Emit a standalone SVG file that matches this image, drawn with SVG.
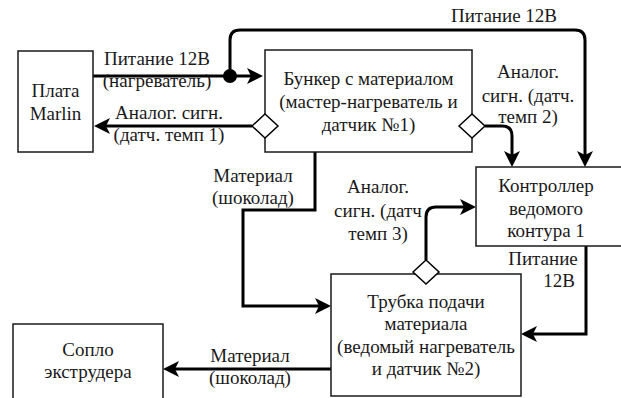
<svg xmlns="http://www.w3.org/2000/svg" width="621" height="398" viewBox="0 0 621 398">
  <style>
    .box { fill: #ffffff; stroke: #1a1a1a; stroke-width: 1.5; }
    .lbl { font-family: "Liberation Serif", serif; font-size: 19px; fill: #1a1a1a; text-anchor: middle; }
    .wire { fill: none; stroke: #000000; stroke-width: 3; }
    .head { fill: #000000; }
    .dia { fill: #ffffff; stroke: #000000; stroke-width: 1.5; }
  </style>
  <defs>
    <!-- arrowhead with its tip at the origin, pointing along +x -->
    <path id="ah" d="M0,0 L-16,-8 L-12,0 L-16,8 Z"/>
  </defs>
  <rect width="621" height="398" fill="#ffffff"/>

  <!-- connectors -->
  <g id="connectors">
    <!-- power to hopper -->
    <path class="wire" d="M93,76 L251,76"/>
    <use class="head" href="#ah" transform="translate(263,76)"/>
    <!-- power branch to slave controller -->
    <path class="wire" d="M230,76 L230,40 Q230,30 240,30 L575,30 Q585,30 585,40 L585,155"/>
    <use class="head" href="#ah" transform="translate(585,167) rotate(90)"/>
    <!-- analog signal 1 to Marlin -->
    <path class="wire" d="M252,126 L106,126"/>
    <use class="head" href="#ah" transform="translate(94,126) rotate(180)"/>
    <!-- analog signal 2 to controller -->
    <path class="wire" d="M485,126 L502,126 Q512,126 512,136 L512,155"/>
    <use class="head" href="#ah" transform="translate(512,167) rotate(90)"/>
    <!-- material from hopper to feed tube -->
    <path class="wire" d="M315,152 L315,210 L243,210 L243,306 L319,306"/>
    <use class="head" href="#ah" transform="translate(331,306)"/>
    <!-- analog signal 3 to controller -->
    <path class="wire" d="M426,260 L426,217 Q426,207 436,207 L464,207"/>
    <use class="head" href="#ah" transform="translate(476,207)"/>
    <!-- controller power to feed tube -->
    <path class="wire" d="M586,246 L586,334 L533,334"/>
    <use class="head" href="#ah" transform="translate(521,334) rotate(180)"/>
    <!-- material to nozzle -->
    <path class="wire" d="M331,369 L175,369"/>
    <use class="head" href="#ah" transform="translate(163,369) rotate(180)"/>
    <!-- junction dot -->
    <circle cx="230" cy="76" r="7" fill="#000000"/>
    <!-- edge labels -->
    <text class="lbl" x="157" y="65">Питание 12В</text>
    <text class="lbl" x="157" y="87">(нагреватель)</text>
    <text class="lbl" x="169" y="119">Аналог. сигн.</text>
    <text class="lbl" x="169" y="141">(датч. темп 1)</text>
    <text class="lbl" x="504" y="22">Питание 12В</text>
    <text class="lbl" x="528" y="78">Аналог.</text>
    <text class="lbl" x="528" y="102">сигн. (датч.</text>
    <text class="lbl" x="528" y="123">темп 2)</text>
    <text class="lbl" x="253" y="182">Материал</text>
    <text class="lbl" x="253" y="204">(шоколад)</text>
    <text class="lbl" x="378" y="193">Аналог.</text>
    <text class="lbl" x="378" y="217">сигн. (датч</text>
    <text class="lbl" x="378" y="240">темп 3)</text>
    <text class="lbl" x="543" y="265">Питание</text>
    <text class="lbl" x="559" y="287">12В</text>
    <text class="lbl" x="250" y="362">Материал</text>
    <text class="lbl" x="250" y="384">(шоколад)</text>
  </g>

  <g id="marlin">
    <rect class="box" x="18" y="51" width="75" height="101"/>
    <text class="lbl" x="55.5" y="97">Плата</text>
    <text class="lbl" x="55.5" y="120">Marlin</text>
  </g>

  <g id="hopper">
    <rect class="box" x="265" y="50" width="207" height="102"/>
    <text class="lbl" x="368.5" y="85">Бункер с материалом</text>
    <text class="lbl" x="368.5" y="108">(мастер-нагреватель и</text>
    <text class="lbl" x="368.5" y="131">датчик №1)</text>
    <polygon class="dia" points="252,126 265,114 278,126 265,138"/>
    <polygon class="dia" points="459,126 472,114 485,126 472,138"/>
  </g>

  <g id="controller">
    <rect class="box" x="476" y="167" width="150" height="79"/>
    <text class="lbl" x="546" y="192">Контроллер</text>
    <text class="lbl" x="546" y="215">ведомого</text>
    <text class="lbl" x="546" y="237">контура 1</text>
  </g>

  <g id="feed-tube">
    <rect class="box" x="331" y="274" width="190" height="122"/>
    <text class="lbl" x="426" y="308">Трубка подачи</text>
    <text class="lbl" x="426" y="330">материала</text>
    <text class="lbl" x="426" y="353">(ведомый нагреватель</text>
    <text class="lbl" x="426" y="375">и датчик №2)</text>
    <polygon class="dia" points="413,272 426,260 439,272 426,284"/>
  </g>

  <g id="nozzle">
    <rect class="box" x="13" y="324" width="150" height="80"/>
    <text class="lbl" x="88" y="356">Сопло</text>
    <text class="lbl" x="88" y="378">экструдера</text>
  </g>
</svg>
